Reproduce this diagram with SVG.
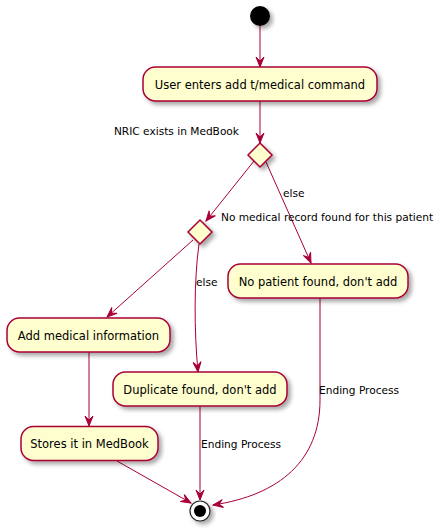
<svg xmlns="http://www.w3.org/2000/svg" width="441" height="532" viewBox="0 0 441 532">
<style>
.box{fill:#FEFECE;stroke:#A80036;stroke-width:1.5;filter:url(#sh)}
.dia{fill:#FEFECE;stroke:#A80036;stroke-width:1.5;filter:url(#sh)}
.t{font-family:"DejaVu Sans",sans-serif;font-size:11.5px;fill:#000;text-anchor:middle}
.l{font-family:"DejaVu Sans",sans-serif;font-size:10.6px;fill:#000}
.c{fill:none;stroke:#A80036;stroke-width:1;marker-end:url(#ah)}
</style>
<defs>
<filter id="sh" x="-20%" y="-20%" width="150%" height="160%">
<feDropShadow dx="3" dy="3" stdDeviation="2" flood-color="#000" flood-opacity="0.35"/>
</filter>
<marker id="ah" markerUnits="userSpaceOnUse" markerWidth="12" markerHeight="10" refX="10" refY="4" orient="auto" overflow="visible">
<path d="M0,0 L10,4 L0,8 L4,4 Z" fill="#A80036" stroke="#A80036" stroke-width="1"/>
</marker>
</defs>
<rect width="441" height="532" fill="#fff"/>
<g id="connectors">
<path class="c" d="M260,26 L260,67"/>
<path class="c" d="M260,101 L260,143"/>
<path class="c" d="M254,161 L206,221"/>
<path class="c" d="M266,162 L311,263"/>
<path class="c" d="M193,240 L107,317"/>
<path class="c" d="M199,244 C194,280 194,330 198,372"/>
<path class="c" d="M89,352 L89,426"/>
<path class="c" d="M117,461 L191,503"/>
<path class="c" d="M200,406 L200,500"/>
<path class="c" d="M320,298 L320,400 C320,460 280,495 213,505"/>
<text class="l" x="239" y="135" text-anchor="end">NRIC exists in MedBook</text>
<text class="l" x="283" y="197">else</text>
<text class="l" x="221" y="221">No medical record found for this patient</text>
<text class="l" x="196" y="286">else</text>
<text class="l" x="201" y="448">Ending Process</text>
<text class="l" x="319" y="394">Ending Process</text>
</g>
<g id="start"><circle cx="260" cy="16" r="10" fill="#000" filter="url(#sh)"/></g>
<g id="n1"><rect class="box" x="143" y="67" width="234" height="34" rx="12.5"/><text class="t" x="260" y="88.5">User enters add t/medical command</text></g>
<g id="d1"><polygon class="dia" points="260,143 272,155 260,167 248,155"/></g>
<g id="d2"><polygon class="dia" points="200,220 212,232 200,244 188,232"/></g>
<g id="n2"><rect class="box" x="228" y="264" width="180" height="34" rx="12.5"/><text class="t" x="318" y="285.5">No patient found, don't add</text></g>
<g id="n3"><rect class="box" x="7" y="318" width="163" height="34" rx="12.5"/><text class="t" x="88.5" y="339.5">Add medical information</text></g>
<g id="n4"><rect class="box" x="113" y="372" width="174" height="34" rx="12.5"/><text class="t" x="200" y="393.8">Duplicate found, don't add</text></g>
<g id="n5"><rect class="box" x="21" y="426.5" width="137" height="34" rx="12.5"/><text class="t" x="89.5" y="448">Stores it in MedBook</text></g>
<g id="end"><circle cx="200" cy="511" r="10" fill="#fff" stroke="#222" stroke-width="1.2" filter="url(#sh)"/><circle cx="200" cy="511" r="6" fill="#000"/></g>
</svg>
